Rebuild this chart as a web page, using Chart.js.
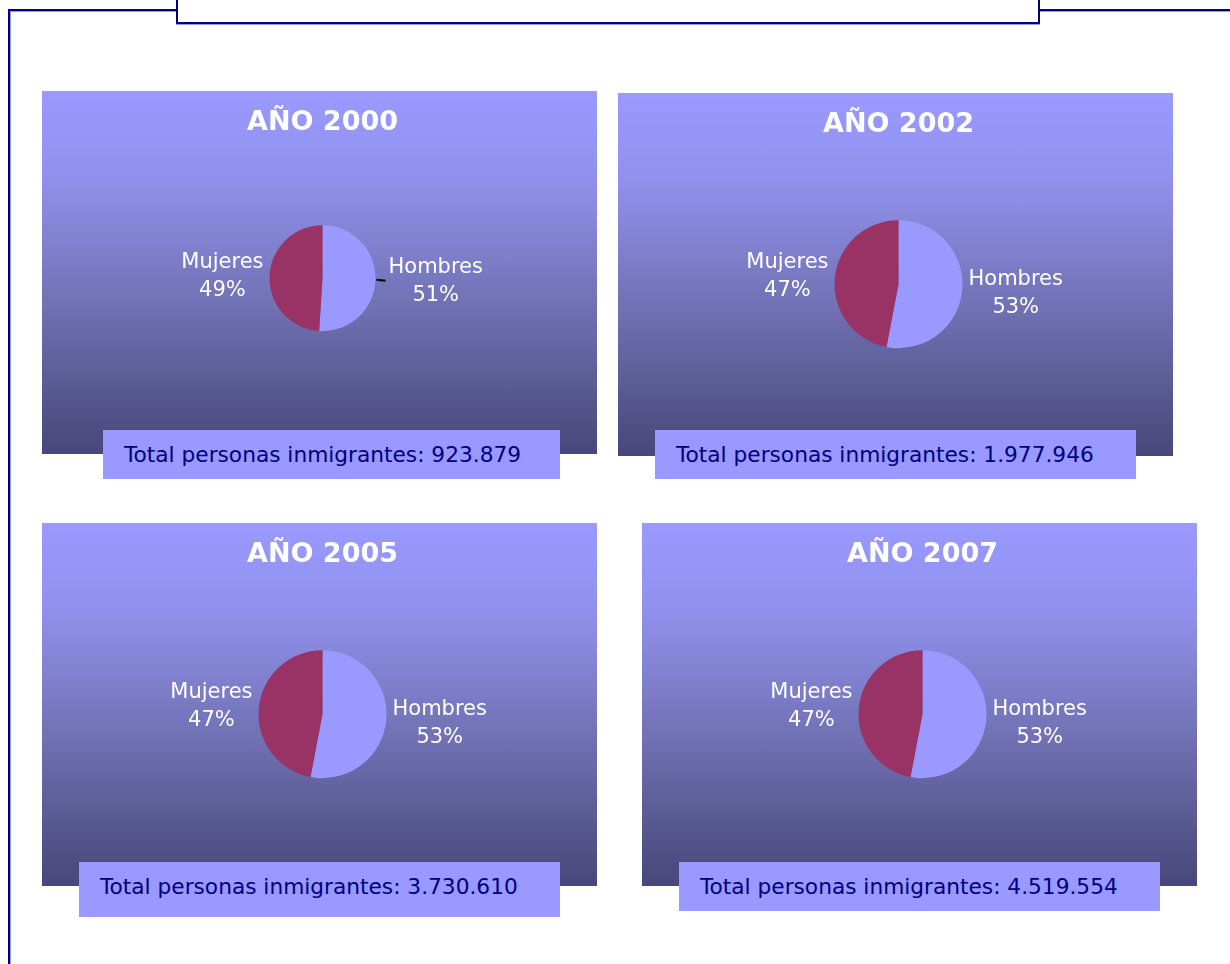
<!DOCTYPE html>
<html>
<head>
<meta charset="utf-8">
<script src="https://cdn.jsdelivr.net/npm/chart.js@4/dist/chart.umd.min.js"></script>
<style>
  html, body { margin: 0; padding: 0; background: #fff; }
  body { width: 1230px; height: 964px; position: relative; overflow: hidden; font-family: 'DejaVu Sans', sans-serif; }
  .frame { position: absolute; left: 8px; top: 9px; width: 1240px; height: 1000px;
           border-left: 2px solid #000080; border-top: 2px solid #000080;
           box-shadow: inset 1px 1px 0 #9999dd; }
  .topbox { position: absolute; left: 176px; top: -12px; width: 860px; height: 32px;
            background: #fff; border: 2px solid #000080; box-shadow: 0 1px 0 #9999dd; }
  .panel { position: absolute; width: 555px; height: 363px;
           background: linear-gradient(to bottom, #9a9aff 0%, #9090ec 25%, #7070b2 60%, #47477a 100%); }
  .panel canvas { position: absolute; left: 0; top: 0; }
  .total { position: absolute; background: #9999ff; color: #000080; font-size: 21.7px;
           line-height: 49px; padding-left: 21px; box-sizing: border-box; white-space: nowrap; }
</style>
</head>
<body>
<div class="frame"></div>
<div class="topbox"></div>
<div id="root"></div>
<script>
// ── DATA ─────────────────────────────────────────────────────
const YEARS   = ['AÑO 2000', 'AÑO 2002', 'AÑO 2005', 'AÑO 2007'];
const SEXES   = ['Hombres', 'Mujeres'];
const HOMBRES = [51, 53, 53, 53];
const MUJERES = [49, 47, 47, 47];
const TOTALS  = ['923.879', '1.977.946', '3.730.610', '4.519.554'];
const COLORS  = ['#9999ff', '#993366'];

// ── LAYOUT (page positions of each panel / total box) ────────
const PANELS = [
  { x: 42,  y: 91,  r: 53, padBottom: 37, leader: 0,
    box: { x: 103, y: 430, w: 457, h: 49 } },
  { x: 618, y: 93,  r: 64, padBottom: 29, leader: -1,
    box: { x: 655, y: 430, w: 481, h: 49 } },
  { x: 42,  y: 523, r: 64, padBottom: 29, leader: -1,
    box: { x: 79,  y: 862, w: 481, h: 55 } },
  { x: 642, y: 523, r: 64, padBottom: 29, leader: -1,
    box: { x: 679, y: 862, w: 481, h: 49 } },
];

// outside labels "Hombres / 53%" next to each slice
const pieLabels = {
  id: 'pieLabels',
  afterDatasetsDraw(chart, args, opts) {
    const ctx = chart.ctx;
    const ds = chart.data.datasets[0];
    const meta = chart.getDatasetMeta(0);
    ctx.save();
    ctx.font = '21px "DejaVu Sans"';
    ctx.fillStyle = '#ffffff';
    ctx.textAlign = 'center';
    ctx.textBaseline = 'middle';
    meta.data.forEach((arc, i) => {
      const p = arc.getProps(['x', 'y', 'startAngle', 'endAngle', 'outerRadius'], true);
      const mid = (p.startAngle + p.endAngle) / 2;
      const dx = Math.cos(mid), dy = Math.sin(mid);
      const lines = [chart.data.labels[i], ds.data[i] + '%'];
      const w = Math.max(...lines.map(l => ctx.measureText(l).width));
      const side = dx >= 0 ? 1 : -1;
      let gap = 6;
      if (opts.leader === i) {
        const ex = p.x + side * (p.outerRadius + 1);
        const ey = p.y + dy * p.outerRadius;
        ctx.strokeStyle = '#000';
        ctx.lineWidth = 2;
        ctx.beginPath();
        ctx.moveTo(ex, ey);
        ctx.lineTo(ex + side * 9, ey + 1);
        ctx.stroke();
        gap = 13;
      }
      const cx = p.x + side * (p.outerRadius + gap + w / 2);
      const cy = p.y + dy * (p.outerRadius + 30) + 1;
      ctx.fillText(lines[0], cx, cy - 14);
      ctx.fillText(lines[1], cx, cy + 14);
    });
    ctx.restore();
  }
};

const root = document.getElementById('root');

PANELS.forEach((pn, k) => {
  const panel = document.createElement('div');
  panel.className = 'panel';
  panel.style.left = pn.x + 'px';
  panel.style.top = pn.y + 'px';
  const canvas = document.createElement('canvas');
  canvas.width = 555;
  canvas.height = 363;
  panel.appendChild(canvas);
  root.appendChild(panel);

  new Chart(canvas, {
    type: 'pie',
    data: {
      labels: SEXES,
      datasets: [{
        data: [HOMBRES[k], MUJERES[k]],
        backgroundColor: COLORS,
        borderWidth: 0,
      }]
    },
    options: {
      responsive: false,
      animation: false,
      devicePixelRatio: 1,
      radius: pn.r,
      layout: { padding: { left: 6, right: 0, top: 0, bottom: pn.padBottom } },
      plugins: {
        legend: { display: false },
        tooltip: { enabled: false },
        title: {
          display: true,
          text: YEARS[k],
          color: '#ffffff',
          font: { family: 'DejaVu Sans', size: 27, weight: 'bold' },
          padding: { top: 16, bottom: 0 },
        },
        pieLabels: { leader: pn.leader },
      }
    },
    plugins: [pieLabels]
  });

  const box = document.createElement('div');
  box.className = 'total';
  box.style.left = pn.box.x + 'px';
  box.style.top = pn.box.y + 'px';
  box.style.width = pn.box.w + 'px';
  box.style.height = pn.box.h + 'px';
  box.textContent = 'Total personas inmigrantes: ' + TOTALS[k];
  root.appendChild(box);
});
</script>
</body>
</html>
